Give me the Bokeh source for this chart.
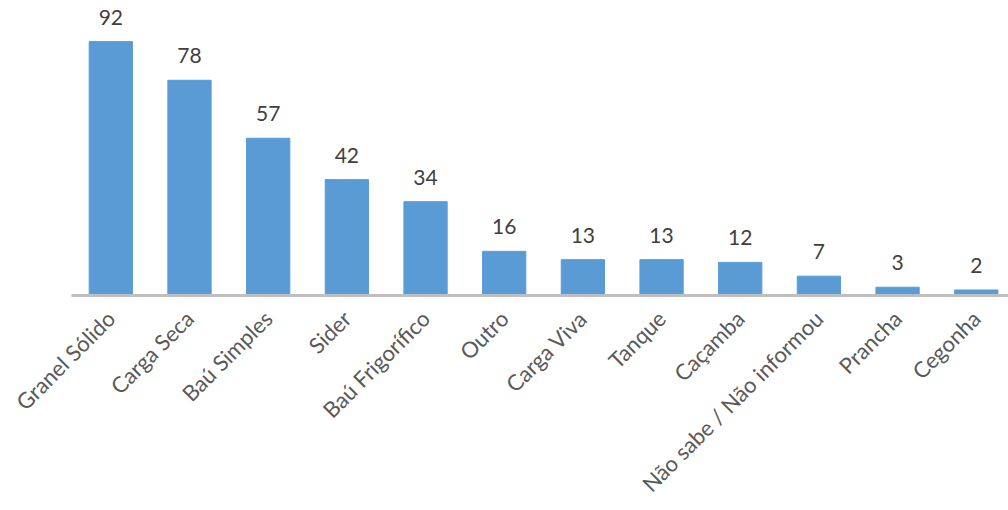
import math
from bokeh.plotting import figure
from bokeh.models import ColumnDataSource, Range1d, LabelSet, FixedTicker
from bokeh.core.properties import value
from bokeh.embed import file_html
from bokeh.resources import INLINE

categories = ["Granel Sólido", "Carga Seca", "Baú Simples", "Sider", "Baú Frigorífico",
              "Outro", "Carga Viva", "Tanque", "Caçamba", "Não sabe / Não informou",
              "Prancha", "Cegonha"]
values = [92, 78, 57, 42, 34, 16, 13, 13, 12, 7, 3, 2]

idx = list(range(len(categories)))
src = ColumnDataSource(dict(x=idx, top=values, lbl=[str(v) for v in values]))

p = figure(width=1008, height=510, output_backend="svg", toolbar_location=None,
           x_range=Range1d(-0.5, 11.41), y_range=Range1d(0, 106.9),
           min_border_left=71, min_border_right=0, min_border_top=0, min_border_bottom=215)
p.vbar(x="x", top="top", width=0.55, bottom=0, source=src,
       fill_color="#5B9BD5", line_color="#5B9BD5")

labels = LabelSet(x="x", y="top", text="lbl", source=src, text_align="center",
                  text_baseline="alphabetic", y_offset=17, text_font=value("Lato"),
                  text_font_size="21px", text_color="#404040")
p.add_layout(labels)

p.yaxis.visible = False
p.xgrid.grid_line_color = None
p.ygrid.grid_line_color = None
p.outline_line_color = None

ax = p.xaxis[0]
ax.ticker = FixedTicker(ticks=idx)
ax.major_label_overrides = {i: c for i, c in enumerate(categories)}
ax.major_label_orientation = math.pi / 4
ax.major_label_text_font = "Lato"
ax.major_label_text_font_size = "22px"
ax.major_label_text_color = "#595959"
ax.axis_line_color = "#BFBFBF"
ax.axis_line_width = 3
ax.major_tick_line_color = None
ax.minor_tick_line_color = None
ax.major_tick_out = 0
ax.major_tick_in = 0
ax.major_label_standoff = 19

open("out.html", "w").write(file_html(p, INLINE))
